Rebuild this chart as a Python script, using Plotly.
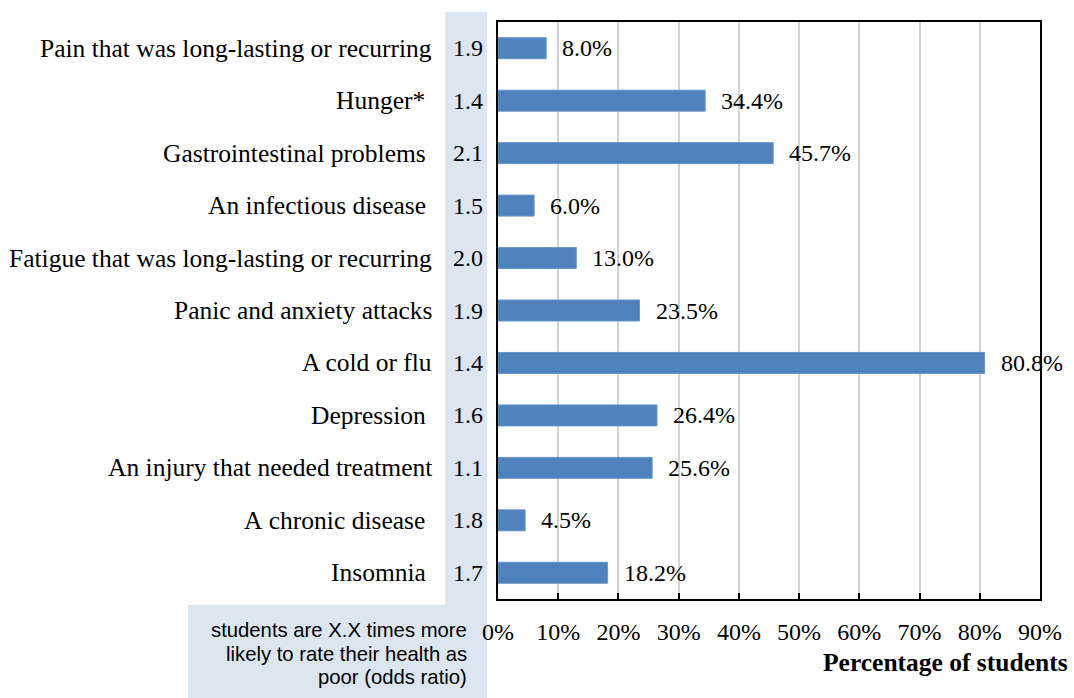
import plotly.graph_objects as go

categories = [
    "Pain that was long-lasting or recurring",
    "Hunger* ",
    "Gastrointestinal problems ",
    "An infectious disease ",
    "Fatigue that was long-lasting or recurring",
    "Panic and anxiety attacks",
    "A cold or flu",
    "Depression ",
    "An injury that needed treatment",
    "A chronic disease ",
    "Insomnia ",
]
percent_students = [8.0, 34.4, 45.7, 6.0, 13.0, 23.5, 80.8, 26.4, 25.6, 4.5, 18.2]
odds_ratio = ["1.9", "1.4", "2.1", "1.5", "2.0", "1.9", "1.4", "1.6", "1.1", "1.8", "1.7"]
x_ticks = [0, 10, 20, 30, 40, 50, 60, 70, 80, 90]
x_tick_labels = [f"{t}%" for t in x_ticks]
note_lines = [
    "students are X.X times more",
    "likely to rate their health as",
    "poor (odds ratio)",
]
axis_title = "Percentage of students"

SERIF = "Liberation Serif, Times New Roman, serif"
SANS = "Liberation Sans, Arial, sans-serif"
BAND = "#DCE6F1"

W, H = 1074, 698
L, R, T, B = 498, 32, 22, 99
pw = W - L - R
ph = H - T - B

def px_x(p):
    return (p - L) / pw

def px_y(p):
    return (H - B - p) / ph

n = len(categories)
ypos = list(range(n))

fig = go.Figure()
fig.add_trace(go.Bar(
    x=percent_students,
    y=ypos,
    orientation="h",
    width=0.4,
    marker=dict(color="#4F81BD", line=dict(color="#6A95CC", width=1)),
    hoverinfo="skip",
))

annotations = []
for i, (c, v, o) in enumerate(zip(categories, percent_students, odds_ratio)):
    label = c.replace(" ", "\u00a0") if c.endswith(" ") else c
    annotations.append(dict(
        x=px_x(434), xref="paper", y=i, yref="y", text=label,
        xanchor="right", yanchor="middle", showarrow=False,
        font=dict(family=SERIF, size=25.5, color="black"),
    ))
    annotations.append(dict(
        x=px_x(468), xref="paper", y=i, yref="y", text=o,
        xanchor="center", yanchor="middle", showarrow=False,
        font=dict(family=SERIF, size=24, color="black"),
    ))
    annotations.append(dict(
        x=v, xref="x", y=i, yref="y", text=f"{v:.1f}%",
        xanchor="left", yanchor="middle", showarrow=False, xshift=14,
        font=dict(family=SERIF, size=24, color="black"),
    ))

for k, line in enumerate(note_lines):
    annotations.append(dict(
        x=px_x(469), xref="paper", y=px_y(630 + 23.5 * k), yref="paper",
        text=line, xanchor="right", yanchor="middle", showarrow=False,
        font=dict(family=SANS, size=20.3, color="black"),
    ))
annotations.append(dict(
    x=px_x(1072), xref="paper", y=px_y(662), yref="paper",
    text=f"<b>{axis_title}</b>",
    xanchor="right", yanchor="middle", showarrow=False,
    font=dict(family=SERIF, size=25.5, color="black"),
))

shapes = [
    dict(type="rect", xref="paper", yref="paper",
         x0=px_x(445), x1=px_x(487), y0=px_y(605), y1=px_y(12),
         fillcolor=BAND, line=dict(width=0), layer="below"),
    dict(type="rect", xref="paper", yref="paper",
         x0=px_x(187), x1=px_x(487), y0=px_y(698), y1=px_y(605),
         fillcolor=BAND, line=dict(width=0), layer="below"),
]

fig.update_layout(
    width=W, height=H,
    margin=dict(l=L, r=R, t=T, b=B, pad=0),
    plot_bgcolor="white", paper_bgcolor="white",
    showlegend=False,
    annotations=annotations,
    shapes=shapes,
    xaxis=dict(
        range=[0, 90], tickvals=x_ticks, ticktext=x_tick_labels,
        showgrid=True, gridcolor="#D3D3D3", gridwidth=2,
        ticks="inside", ticklen=6, tickcolor="black", tickwidth=2,
        showline=True, linecolor="black", linewidth=2, mirror=True,
        tickfont=dict(family=SERIF, size=24, color="black"),
        ticklabelstandoff=10, zeroline=False, fixedrange=True,
    ),
    yaxis=dict(
        range=[n - 0.5, -0.5], showticklabels=False, ticks="",
        showgrid=False, zeroline=False,
        showline=True, linecolor="black", linewidth=2, mirror=True,
        fixedrange=True,
    ),
)

fig.write_html(
    "out.html",
    config={"displayModeBar": False},
    post_script="document.body.style.margin='0';document.body.style.overflow='hidden';",
)
